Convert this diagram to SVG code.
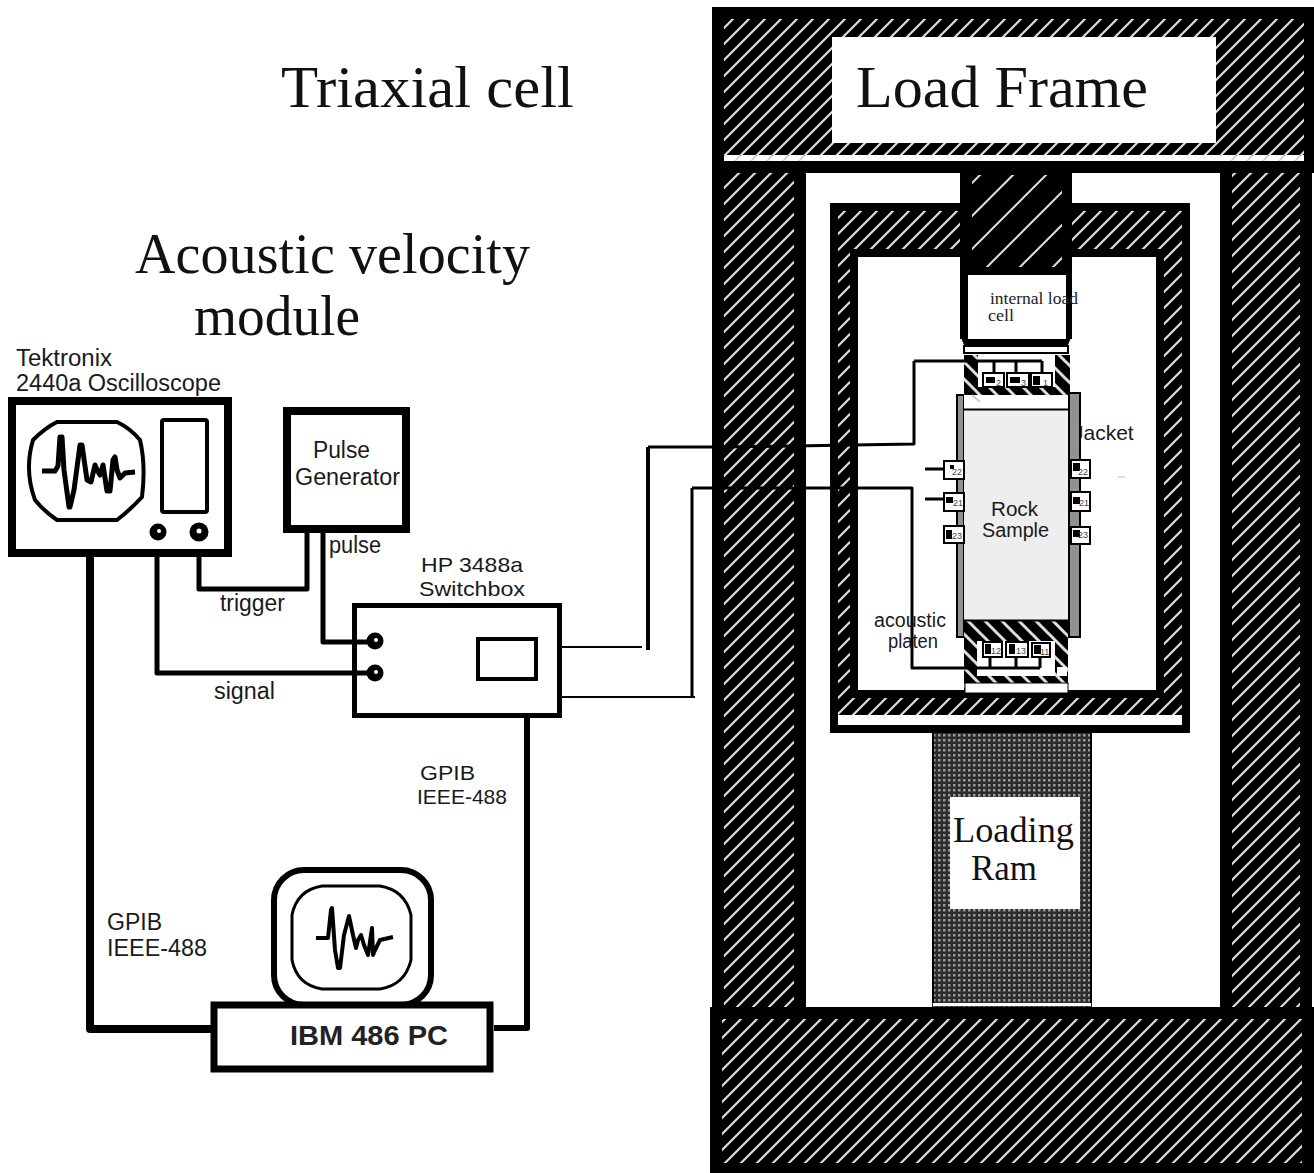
<svg xmlns="http://www.w3.org/2000/svg" width="1314" height="1173" viewBox="0 0 1314 1173">
<style>
.s{font-family:"Liberation Sans",Arial,sans-serif;font-size:23px;fill:#1a1a1a}
.p{font-family:"Liberation Sans",Arial,sans-serif;font-size:21px;fill:#1a1a1a}
.q{font-family:"Liberation Sans",Arial,sans-serif;font-size:20px;fill:#1a1a1a}
.t{font-family:"Liberation Serif","Times New Roman",serif;font-size:60px;fill:#111}
.u{font-family:"Liberation Serif","Times New Roman",serif;font-size:56px;fill:#111}
.r{font-family:"Liberation Serif","Times New Roman",serif;font-size:36px;fill:#111}
.c{font-family:"Liberation Serif","Times New Roman",serif;font-size:17px;fill:#222}
.n{font-family:"Liberation Sans",Arial,sans-serif;font-size:9px;fill:#444}
.w{fill:none;stroke:#000;stroke-linejoin:round}
.b{fill:#fff;stroke:#000}
.k{fill:#000}
.x{fill:#fff;stroke:#000;stroke-width:2}
</style>
<defs>
<pattern id="h" width="16" height="16" patternUnits="userSpaceOnUse"><rect width="16" height="16" fill="#000"/><path d="M-4 4L4 -4M0 16L16 0M12 20L20 12" stroke="#ddd" stroke-width="2.200"/></pattern>
<pattern id="f" width="16" height="16" patternUnits="userSpaceOnUse"><path d="M-4 4L4 -4M0 16L16 0M12 20L20 12" stroke="#ccc" stroke-width="1.600"/></pattern>
<pattern id="sp" width="33" height="33" patternUnits="userSpaceOnUse"><rect width="33" height="33" fill="#000"/><path d="M-4 4L4 -4M0 33L33 0M29 37L37 29" stroke="#ddd" stroke-width="2"/></pattern>
<pattern id="d" width="17" height="17" patternUnits="userSpaceOnUse" x="964" y="345"><rect width="17" height="17" fill="#000"/><path d="M-4 13L4 21M0 0L17 17M13 -4L21 4" stroke="#ddd" stroke-width="3"/></pattern>
<pattern id="m" width="5" height="15" patternUnits="userSpaceOnUse" x="932" y="733"><rect width="5" height="15" fill="#2c2c2c"/><rect x="1" y="1" width="2.500" height="2.500" fill="#999"/><rect x="1" y="6" width="2.500" height="2.500" fill="#999"/><rect x="1" y="11" width="2.500" height="2.500" fill="#999"/></pattern>
</defs>

<g id="load-frame">
<rect x="712" y="7" width="602" height="166" class="k"/>
<rect x="724" y="19" width="580" height="136" fill="url(#h)"/>
<rect x="724" y="155" width="580" height="6" fill="#fff"/>
<rect x="724" y="155" width="82" height="6" fill="url(#f)"/>
<rect x="1220" y="155" width="84" height="6" fill="url(#f)"/>
<rect x="832" y="37" width="384" height="106" fill="#fff"/>
<text x="856" y="107" class="t" textLength="292" lengthAdjust="spacingAndGlyphs">Load Frame</text>
<rect x="712" y="173" width="94" height="840" class="k"/>
<rect x="724" y="173" width="70" height="834" fill="url(#h)"/>
<rect x="1220" y="173" width="92" height="840" class="k"/>
<rect x="1232" y="173" width="68" height="834" fill="url(#h)"/>
<rect x="710" y="1007" width="604" height="166" class="k"/>
<rect x="722" y="1019" width="580" height="144" fill="url(#h)"/>
</g>

<g id="triaxial-cell">
<rect x="830" y="203" width="360" height="530" class="k"/>
<rect x="838" y="211" width="344" height="504" fill="url(#h)"/>
<rect x="838" y="715" width="344" height="10" fill="#fff"/>
<rect x="850" y="249" width="314" height="449" class="k"/>
<rect x="858" y="257" width="298" height="433" fill="#fff"/>
</g>

<g id="piston">
<rect x="960" y="173" width="112" height="102" class="k"/>
<rect x="972" y="175" width="90" height="92" fill="url(#sp)"/>
<rect x="960" y="267" width="112" height="72" class="k"/>
<path d="M960 335L964 345H1068L1072 335Z" class="k"/>
<rect x="968" y="275" width="98" height="64" fill="#fff"/>
<text x="990" y="304" class="c" textLength="88" lengthAdjust="spacingAndGlyphs">internal load</text>
<text x="988" y="321" class="c" textLength="26" lengthAdjust="spacingAndGlyphs">cell</text>
</g>

<g id="loading-ram">
<rect x="932" y="733" width="160" height="274" fill="url(#m)"/>
<rect x="932" y="733" width="2" height="270" class="k"/>
<rect x="1090" y="733" width="2" height="270" class="k"/>
<rect x="933" y="1003" width="158" height="3" fill="#fff"/>
<rect x="950" y="797" width="130" height="112" fill="#fff"/>
<text x="953" y="842" class="r" textLength="121" lengthAdjust="spacingAndGlyphs">Loading</text>
<text x="971" y="880" class="r" textLength="66" lengthAdjust="spacingAndGlyphs">Ram</text>
</g>

<g id="jacket">
<text x="1073" y="440" font-family="Liberation Sans, Arial, sans-serif" font-size="21" fill="#1a1a1a">Jacket</text>
<rect x="957" y="395" width="7" height="242" fill="#919191" stroke="#000" stroke-width="2"/>
<rect x="1069" y="393" width="11" height="244" fill="#919191" stroke="#000" stroke-width="2"/>
<path d="M1118 477H1125" stroke="#bbb" stroke-width="1"/>
</g>

<g id="rock-sample">
<rect x="964" y="410" width="104" height="210" fill="#eee"/>
<text x="991" y="516" class="q" textLength="47" lengthAdjust="spacingAndGlyphs">Rock</text>
<text x="982" y="537" class="q" textLength="67" lengthAdjust="spacingAndGlyphs">Sample</text>
</g>

<g id="top-platen">
<rect x="964" y="346" width="104" height="7" fill="#fff" stroke="#000" stroke-width="2"/>
<rect x="964" y="355" width="106" height="40" fill="url(#d)"/>
<rect x="978" y="355" width="77" height="32" fill="#fff"/>
<rect x="964" y="395" width="104" height="15" fill="#fff"/>
<path d="M964 409.500H1068" stroke="#000" stroke-width="2"/>
<path d="M972 395L980 402" stroke="#ccc" stroke-width="2"/>
</g>

<g id="bottom-platen">
<rect x="964" y="620" width="104" height="72" fill="url(#d)"/>
<path d="M964 620.500H1068" stroke="#000" stroke-width="2"/>
<rect x="977" y="641" width="78" height="35" fill="#fff"/>
<rect x="1057" y="667" width="10" height="9" fill="#fff"/>
<rect x="965" y="683" width="103" height="10" fill="#fff" stroke="#000" stroke-width="1"/>
</g>

<g id="connectors">
<path class="w" stroke-width="3" d="M994 372V361M1016 372V361M1042 372V361M914 361H1042M914 361V444L724 447H648"/>
<path class="w" stroke-width="3" d="M692 488H912V668H1040M990 657V668M1016 657V668M1040 657V668"/>
<path class="w" stroke-width="3" d="M925 469H943M925 499H943"/>
<path class="w" stroke-width="4" d="M648 447V650"/>
<path class="w" stroke-width="3" d="M692 488V697"/>
<path class="w" stroke-width="2" d="M562 647H642M562 697H695"/>
<path class="w" stroke-width="5" d="M199 532V589H307V533"/>
<path class="w" stroke-width="5" d="M157 543V673H375"/>
<path class="w" stroke-width="5" d="M323 533V642H375"/>
<path class="w" stroke-width="8" d="M90 557V1029H212"/>
<path class="w" stroke-width="6" d="M527 718V1028H494"/>
</g>

<g id="sensors">
<rect x="983" y="373" width="21" height="14" class="x"/><rect x="986" y="377" width="9" height="6" class="k"/><text x="996" y="386" class="n">2</text>
<rect x="1007" y="373" width="22" height="14" class="x"/><rect x="1010" y="377" width="10" height="6" class="k"/><text x="1021" y="386" class="n">3</text>
<rect x="1031" y="373" width="21" height="14" class="x"/><rect x="1033" y="376" width="7" height="9" class="k"/><text x="1043" y="386" class="n">1</text>
<rect x="983" y="642" width="19" height="15" class="x"/><rect x="985" y="644" width="6" height="10" class="k"/><text x="991" y="654" class="n">12</text>
<rect x="1006" y="642" width="22" height="15" class="x"/><rect x="1009" y="644" width="6" height="10" class="k"/><text x="1016" y="654" class="n">13</text>
<rect x="1032" y="643" width="18" height="14" class="x"/><rect x="1034" y="645" width="7" height="9" class="k"/><text x="1040" y="655" class="n">11</text>
<rect x="944" y="461" width="20" height="18" class="x"/><rect x="950" y="465" width="4" height="4" class="k"/><text x="952" y="475" class="n">22</text>
<rect x="944" y="493" width="20" height="18" class="x"/><rect x="946" y="497" width="7" height="6" class="k"/><text x="953" y="506" class="n">21</text>
<rect x="944" y="526" width="20" height="17" class="x"/><rect x="946" y="530" width="6" height="9" class="k"/><text x="952" y="539" class="n">23</text>
<rect x="1071" y="460" width="19" height="18" class="x"/><rect x="1073" y="463" width="7" height="8" class="k"/><text x="1078" y="475" class="n">22</text>
<rect x="1071" y="492" width="19" height="19" class="x"/><rect x="1073" y="497" width="7" height="7" class="k"/><text x="1079" y="506" class="n">21</text>
<rect x="1071" y="527" width="19" height="17" class="x"/><rect x="1073" y="530" width="7" height="7" class="k"/><text x="1078" y="538" class="n">23</text>
</g>

<g id="acoustic-platen-label">
<text x="874" y="627" class="q" textLength="72" lengthAdjust="spacingAndGlyphs">acoustic</text>
<text x="888" y="648" class="q" textLength="50" lengthAdjust="spacingAndGlyphs">platen</text>
</g>

<g id="titles">
<text x="281" y="107" class="t" textLength="293" lengthAdjust="spacingAndGlyphs">Triaxial cell</text>
<text x="135" y="273" class="u" textLength="395">Acoustic velocity</text>
<text x="194" y="335" class="u" textLength="166" lengthAdjust="spacingAndGlyphs">module</text>
</g>

<g id="oscilloscope">
<text x="16" y="366" class="s" textLength="96" lengthAdjust="spacingAndGlyphs">Tektronix</text>
<text x="16" y="391" class="s" textLength="205" lengthAdjust="spacingAndGlyphs">2440a Oscilloscope</text>
<rect x="12" y="401" width="216" height="152" class="b" stroke-width="8"/>
<path class="b" stroke-width="4" d="M57 422H117Q130 428 140 440Q146 465 142 497Q130 510 117 520H57Q45 512 35 500Q24 470 33 440Q45 428 57 422Z"/>
<rect x="162" y="420" width="45" height="92" rx="2" class="b" stroke-width="4"/>
<path class="w" stroke-width="5" d="M42 471H55L58 466L60 437L62 437L64 470L69 507L70 507L74 490L80 445L82 445L87 480L91 482L95 465L97 470L100 475L103 465L107 491L110 491L113 460L115 457L117 470L120 478L125 473L135 472"/>
<circle cx="158" cy="532" r="8.500" class="k"/><circle cx="159" cy="531" r="2" fill="#fff"/>
<circle cx="199" cy="532" r="9.500" class="k"/><circle cx="199" cy="531" r="2.500" fill="#fff"/>
</g>

<g id="pulse-generator">
<rect x="287" y="411" width="119" height="118" class="b" stroke-width="8"/>
<text x="313" y="458" class="s" textLength="57" lengthAdjust="spacingAndGlyphs">Pulse</text>
<text x="295" y="485" class="s" textLength="105" lengthAdjust="spacingAndGlyphs">Generator</text>
</g>

<g id="switchbox">
<text x="421" y="572" class="p" textLength="102" lengthAdjust="spacingAndGlyphs">HP 3488a</text>
<text x="419" y="596" class="p" textLength="106" lengthAdjust="spacingAndGlyphs">Switchbox</text>
<rect x="354.500" y="605.500" width="205" height="110" fill="none" stroke="#000" stroke-width="5"/>
<rect x="478" y="639" width="58" height="40" class="b" stroke-width="4"/>
<circle cx="375" cy="641" r="8.500" class="k"/><circle cx="376" cy="640" r="2" fill="#fff"/>
<circle cx="375" cy="673" r="8.500" class="k"/><circle cx="376" cy="672" r="2" fill="#fff"/>
</g>

<g id="pc">
<rect x="274" y="870" width="157" height="135" rx="30" class="b" stroke-width="6"/>
<path class="b" stroke-width="3" d="M322 886H380Q405 890 411 915V960Q405 985 380 989H322Q297 985 292 960V915Q297 890 322 886Z"/>
<path class="w" stroke-width="4" d="M316 938H328L331 910L332 908L335 950L338 968L340 968L344 935L349 916L353 935L356 948L358 940L361 935L364 945L368 955L372 928L373 955L375 950L380 940L393 937"/>
<rect x="214" y="1005" width="276" height="64" class="b" stroke-width="7"/>
<text x="290" y="1045" font-family="Liberation Sans, Arial, sans-serif" font-size="28" font-weight="bold" fill="#222" textLength="158" lengthAdjust="spacingAndGlyphs">IBM 486 PC</text>
</g>

<g id="labels">
<text x="329" y="553" class="s" textLength="52" lengthAdjust="spacingAndGlyphs">pulse</text>
<text x="220" y="611" class="s" textLength="65" lengthAdjust="spacingAndGlyphs">trigger</text>
<text x="214" y="699" class="s" textLength="61" lengthAdjust="spacingAndGlyphs">signal</text>
<text x="420" y="780" class="p" textLength="55" lengthAdjust="spacingAndGlyphs">GPIB</text>
<text x="417" y="804" class="p" textLength="90" lengthAdjust="spacingAndGlyphs">IEEE-488</text>
<text x="107" y="930" class="s" textLength="55" lengthAdjust="spacingAndGlyphs">GPIB</text>
<text x="107" y="956" class="s" textLength="100" lengthAdjust="spacingAndGlyphs">IEEE-488</text>
</g>
</svg>
